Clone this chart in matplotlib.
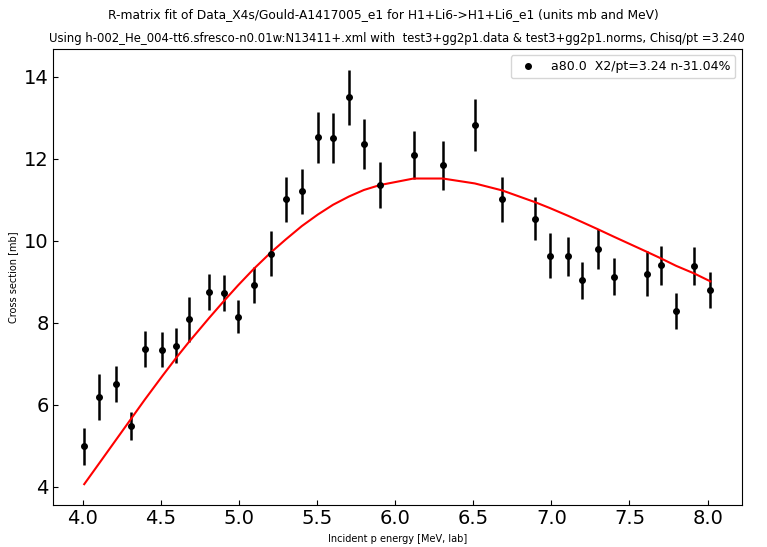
import numpy as np
import matplotlib
matplotlib.use("Agg")
import matplotlib.pyplot as plt

# measured points (lab energy, cross section, error)
energy = [4.01, 4.106, 4.213, 4.307, 4.397, 4.51, 4.60, 4.68, 4.808, 4.904,
          4.994, 5.094, 5.203, 5.299, 5.403, 5.505, 5.603, 5.704, 5.80, 5.902,
          6.118, 6.305, 6.51, 6.685, 6.898, 6.99, 7.107, 7.195, 7.299, 7.40,
          7.612, 7.702, 7.798, 7.916, 8.018]
xs = [4.98, 6.19, 6.50, 5.48, 7.37, 7.34, 7.44, 8.09, 8.74, 8.72,
      8.15, 8.92, 9.68, 11.01, 11.21, 12.53, 12.51, 13.50, 12.37, 11.36,
      12.10, 11.84, 12.82, 11.01, 10.54, 9.63, 9.62, 9.04, 9.80, 9.12,
      9.20, 9.40, 8.28, 9.38, 8.80]
err = [0.44, 0.56, 0.44, 0.33, 0.44, 0.43, 0.43, 0.55, 0.44, 0.44,
       0.40, 0.43, 0.55, 0.55, 0.55, 0.62, 0.62, 0.67, 0.61, 0.57,
       0.59, 0.59, 0.63, 0.55, 0.53, 0.55, 0.47, 0.45, 0.48, 0.45,
       0.54, 0.47, 0.44, 0.47, 0.44]
# R-matrix fit at the same energies
fit = [4.06, 4.57, 5.14, 5.64, 6.12, 6.70, 7.15, 7.53, 8.11, 8.53,
       8.91, 9.31, 9.71, 10.03, 10.36, 10.64, 10.88, 11.08, 11.24, 11.36,
       11.52, 11.52, 11.40, 11.23, 10.94, 10.80, 10.61, 10.46, 10.28, 10.10,
       9.73, 9.57, 9.39, 9.20, 9.01]

fig = plt.figure(figsize=(7.67, 5.47), dpi=100)
ax = fig.add_axes([0.069, 0.077, 0.898, 0.833])

eb = ax.errorbar(energy, xs, yerr=err, fmt='o', color='black', markersize=4,
                 elinewidth=1.8)
ax.plot(energy, fit, color='red', linewidth=1.5)

ax.tick_params(direction='in', labelsize=14, pad=3)
ax.set_xlabel('Incident p energy [MeV, lab]', fontsize=7)
ax.set_ylabel('Cross section [mb]', fontsize=7)
# legend shows only the dot, no error bar
ax.legend([eb[0]], ['a80.0  X2/pt=3.24 n-31.04%'], loc='upper right', fontsize=9)

fig.suptitle('R-matrix fit of Data_X4s/Gould-A1417005_e1 for H1+Li6->H1+Li6_e1 (units mb and MeV)',
             fontsize=8.8, y=0.985)
ax.set_title('Using h-002_He_004-tt6.sfresco-n0.01w:N13411+.xml with  test3+gg2p1.data & test3+gg2p1.norms, Chisq/pt =3.240',
             fontsize=8.4, pad=5)

fig.savefig('out.png', dpi=100)
